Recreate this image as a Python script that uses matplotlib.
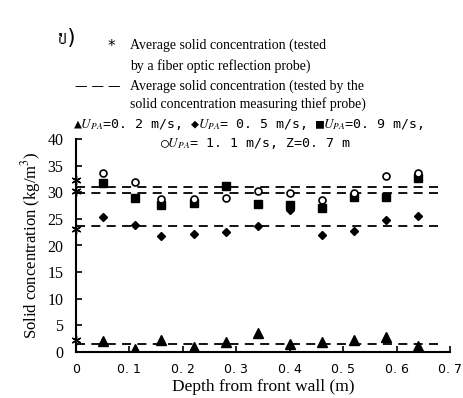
import matplotlib
matplotlib.use("Agg")
import matplotlib.pyplot as plt
from matplotlib import font_manager
from matplotlib.ft2font import FT2Font

# depth positions of the sampling points (m)
depth = [0.05, 0.11, 0.16, 0.22, 0.28, 0.34, 0.40, 0.46, 0.52, 0.58, 0.64]

# solid concentration (kg/m3) measured by the fiber optic probe at each depth
conc_u02 = [2.1, 0.6, 2.3, 0.9, 1.8, 3.6, 1.5, 1.9, 2.3, 2.9, 1.2]
conc_u05 = [25.3, 23.9, 21.7, 22.2, 22.6, 23.7, 26.6, 22.0, 22.8, 24.8, 25.6]
conc_u09 = [31.8, 28.9, 27.6, 27.9, 31.2, 27.8, 27.6, 27.0, 29.1, 29.1, 32.6]
conc_u11 = [33.6, 31.9, 28.7, 28.7, 29.0, 30.3, 29.8, 28.6, 29.8, 33.1, 33.7]

# averages: fiber optic probe (stars on the axis) and thief probe (dashed lines)
avg_fiber = [2.3, 23.1, 30.3, 32.3]
avg_thief = [1.5, 23.7, 29.9, 31.0]

x_ticks = [0, 0.1, 0.2, 0.3, 0.4, 0.5, 0.6, 0.7]
x_tick_labels = ["0", "0. 1", "0. 2", "0. 3", "0. 4", "0. 5", "0. 6", "0. 7"]
y_ticks = [0, 5, 10, 15, 20, 25, 30, 35, 40]


def families_with(char):
    # installed font families that carry a glyph for char
    found = []
    for path in font_manager.findSystemFonts():
        try:
            font = FT2Font(path)
            if ord(char) in font.get_charmap() and font.family_name not in found:
                found.append(font.family_name)
        except Exception:
            pass
    return found


thai_families = ["DejaVu Sans"] + families_with("ข")

plt.rcParams["mathtext.fontset"] = "stix"
serif = "Liberation Serif"
W, H = 463, 398

fig = plt.figure(figsize=(W / 100, H / 100), dpi=100)
ax = fig.add_axes([76 / W, 1 - 352 / H, 374 / W, 213 / H])

for level in avg_thief:
    ax.plot([0, 0.68], [level, level], color="black", lw=1.3,
            linestyle=(0, (5, 3.5)))

ax.plot(depth, conc_u02, "^", color="black", ms=6.5, ls="none")
ax.plot(depth, conc_u05, "D", color="black", ms=4.5, ls="none")
ax.plot(depth, conc_u09, "s", color="black", ms=5.5, ls="none")
ax.plot(depth, conc_u11, "o", mfc="white", mec="black", mew=1.2, ms=5, ls="none")
ax.plot([0] * len(avg_fiber), avg_fiber, marker=(6, 2, 0), color="black",
        ms=7, mew=1, ls="none", clip_on=False)

ax.set_xlim(0, 0.7)
ax.set_ylim(0, 40)
ax.set_xticks(x_ticks)
ax.set_xticklabels(x_tick_labels, fontfamily="DejaVu Sans", fontsize=9)
ax.set_yticks(y_ticks)
ax.set_yticklabels([str(v) for v in y_ticks], fontfamily=serif, fontsize=11.5)
ax.tick_params(axis="both", direction="in", length=4, width=1.2)
ax.tick_params(axis="y", pad=9)
ax.tick_params(axis="x", pad=8)
for side in ("top", "right"):
    ax.spines[side].set_visible(False)
for side in ("left", "bottom"):
    ax.spines[side].set_linewidth(1.5)

ax.set_xlabel("Depth from front wall (m)", fontfamily=serif, fontsize=12.5,
              labelpad=2)
ax.set_ylabel("Solid concentration (kg/m$^3$)", fontfamily=serif, fontsize=12,
              labelpad=3)


def put(x, y, s, **kw):
    fig.text(x / W, 1 - y / H, s, va="center", **kw)


put(58, 38, "ข)", fontsize=15, family=thai_families)
put(108, 47, "*", fontsize=11, family="DejaVu Sans")
put(130, 45, "Average solid concentration (tested", fontsize=10, family=serif)
put(130, 66, "by a fiber optic reflection probe)", fontsize=10, family=serif)
put(75, 87, "\u2014 \u2014 \u2014", fontsize=9, family="DejaVu Sans")
put(130, 86, "Average solid concentration (tested by the", fontsize=10, family=serif)
put(130, 104, "solid concentration measuring thief probe)", fontsize=10, family=serif)
put(73, 125, "\u25b2$U_{PA}$=0. 2 m/s, \u25c6$U_{PA}$= 0. 5 m/s, \u25a0$U_{PA}$=0. 9 m/s,",
    fontsize=9.5, family="DejaVu Sans Mono")
put(160, 143, "\u25cb$U_{PA}$= 1. 1 m/s, Z=0. 7 m", fontsize=9.5, family="DejaVu Sans Mono")

fig.savefig("out.png", dpi=100)
